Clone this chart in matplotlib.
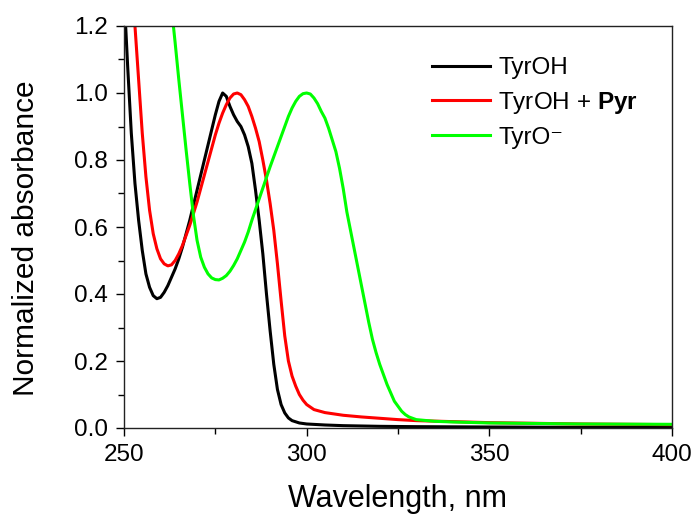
import matplotlib
matplotlib.use("Agg")
import matplotlib.pyplot as plt
from matplotlib.ticker import MultipleLocator, FormatStrFormatter

plt.rcParams['font.family'] = ['Liberation Sans', 'DejaVu Sans']
plt.rcParams['mathtext.fontset'] = 'custom'
plt.rcParams['mathtext.rm'] = 'Liberation Sans'
plt.rcParams['mathtext.bf'] = 'Liberation Sans:bold'

# TyrOH
wl_tyroh = [250, 250.5, 251, 252, 253, 254, 255, 256, 257, 258, 259, 260, 261, 262, 263, 264,
            265, 266, 267, 268, 269, 270, 271, 272, 273, 274, 275, 276, 277, 278, 279, 280,
            281, 282, 283, 284, 285, 286, 287, 288, 289, 290, 291, 292, 293, 294, 295, 296,
            298, 300, 305, 310, 320, 330, 350, 375, 400]
abs_tyroh = [1.27, 1.19, 1.08, 0.88, 0.73, 0.62, 0.53, 0.46, 0.42, 0.395, 0.386, 0.39, 0.405,
             0.425, 0.45, 0.475, 0.505, 0.54, 0.58, 0.62, 0.665, 0.71, 0.755, 0.80, 0.845,
             0.89, 0.935, 0.975, 1.0, 0.99, 0.96, 0.935, 0.915, 0.90, 0.875, 0.84, 0.79, 0.71,
             0.62, 0.52, 0.40, 0.29, 0.19, 0.115, 0.07, 0.045, 0.03, 0.022, 0.015, 0.012,
             0.009, 0.007, 0.005, 0.004, 0.003, 0.002, 0.002]

# TyrOH + Pyr
wl_pyr = [250, 251, 252, 253, 254, 255, 256, 257, 258, 259, 260, 261, 262, 263, 264, 265,
          266, 267, 268, 269, 270, 271, 272, 273, 274, 275, 276, 277, 278, 279, 280, 281,
          282, 283, 284, 285, 286, 287, 288, 289, 290, 291, 292, 293, 294, 295, 296, 297,
          298, 299, 300, 302, 305, 310, 315, 320, 325, 330, 340, 350, 375, 400]
abs_pyr = [1.60, 1.45, 1.32, 1.20, 1.04, 0.88, 0.75, 0.65, 0.58, 0.535, 0.505, 0.49, 0.484,
           0.487, 0.50, 0.52, 0.545, 0.575, 0.605, 0.64, 0.675, 0.715, 0.755, 0.795, 0.835,
           0.875, 0.91, 0.94, 0.965, 0.985, 0.997, 1.0, 0.995, 0.98, 0.96, 0.93, 0.895,
           0.855, 0.80, 0.74, 0.67, 0.59, 0.49, 0.38, 0.275, 0.20, 0.155, 0.125, 0.10,
           0.083, 0.07, 0.055, 0.046, 0.038, 0.033, 0.029, 0.025, 0.022, 0.019, 0.016,
           0.012, 0.010]

# TyrO-
wl_tyro = [260, 261, 262, 263, 264, 265, 266, 267, 268, 269, 270, 271, 272, 273, 274, 275,
           276, 277, 278, 279, 280, 281, 282, 283, 284, 285, 286, 287, 288, 289, 290, 291,
           292, 293, 294, 295, 296, 297, 298, 299, 300, 301, 302, 303, 304, 305, 306, 307,
           308, 309, 310, 311, 312, 313, 314, 315, 316, 317, 318, 319, 320, 321, 322, 323,
           324, 325, 326, 327, 328, 330, 335, 340, 350, 375, 400]
abs_tyro = [1.56, 1.46, 1.36, 1.255, 1.15, 1.04, 0.935, 0.83, 0.73, 0.635, 0.56, 0.51, 0.48,
            0.46, 0.448, 0.443, 0.442, 0.447, 0.455, 0.468, 0.485, 0.505, 0.53, 0.555, 0.585,
            0.62, 0.652, 0.684, 0.716, 0.748, 0.78, 0.81, 0.84, 0.87, 0.90, 0.93, 0.955,
            0.975, 0.99, 0.998, 1.0, 0.997, 0.985, 0.968, 0.945, 0.925, 0.895, 0.86, 0.825,
            0.775, 0.715, 0.645, 0.59, 0.535, 0.48, 0.425, 0.37, 0.315, 0.265, 0.225, 0.19,
            0.16, 0.13, 0.105, 0.08, 0.065, 0.05, 0.04, 0.033, 0.025, 0.02, 0.018, 0.015,
            0.012, 0.011]

labels = ['TyrOH', r'TyrOH + $\mathbf{Pyr}$', 'TyrO\u207b']
colors = ['#000000', '#ff0000', '#00ff00']

fig = plt.figure(figsize=(6.95, 5.15), dpi=100)
ax = fig.add_axes([124/695, 1-428/515, (672-124)/695, (428-26)/515])

ax.plot(wl_tyroh, abs_tyroh, color=colors[0], lw=2.2, label=labels[0])
ax.plot(wl_pyr, abs_pyr, color=colors[1], lw=2.2, label=labels[1])
ax.plot(wl_tyro, abs_tyro, color=colors[2], lw=2.2, label=labels[2])

ax.set_xlim(250, 400)
ax.set_ylim(0, 1.2)
ax.xaxis.set_major_locator(MultipleLocator(50))
ax.xaxis.set_minor_locator(MultipleLocator(25))
ax.yaxis.set_major_locator(MultipleLocator(0.2))
ax.yaxis.set_minor_locator(MultipleLocator(0.1))
ax.yaxis.set_major_formatter(FormatStrFormatter('%.1f'))
ax.tick_params(which='both', direction='out', top=False, right=False, labelsize=17.5, width=1.0)
ax.tick_params(which='major', length=6)
ax.tick_params(which='minor', length=4)
ax.tick_params(axis='y', which='major', pad=5.5)
ax.tick_params(axis='x', which='major', pad=5.5)
for s in ax.spines.values():
    s.set_linewidth(1.0)
    s.set_color('#222222')

ax.set_xlabel('Wavelength, nm', fontsize=22)
ax.set_ylabel('Normalized absorbance', fontsize=21.5)
ax.xaxis.set_label_coords(0.5, -0.14)
ax.yaxis.set_label_coords(-0.153, 0.472)

leg = ax.legend(loc='upper left', bbox_to_anchor=(0.544, 0.947), frameon=False, fontsize=17.5,
                handlelength=2.4, handletextpad=0.33, labelspacing=0.45, borderaxespad=0)
for l in leg.get_lines():
    l.set_linewidth(2.2)

fig.savefig('out.png', dpi=100)
